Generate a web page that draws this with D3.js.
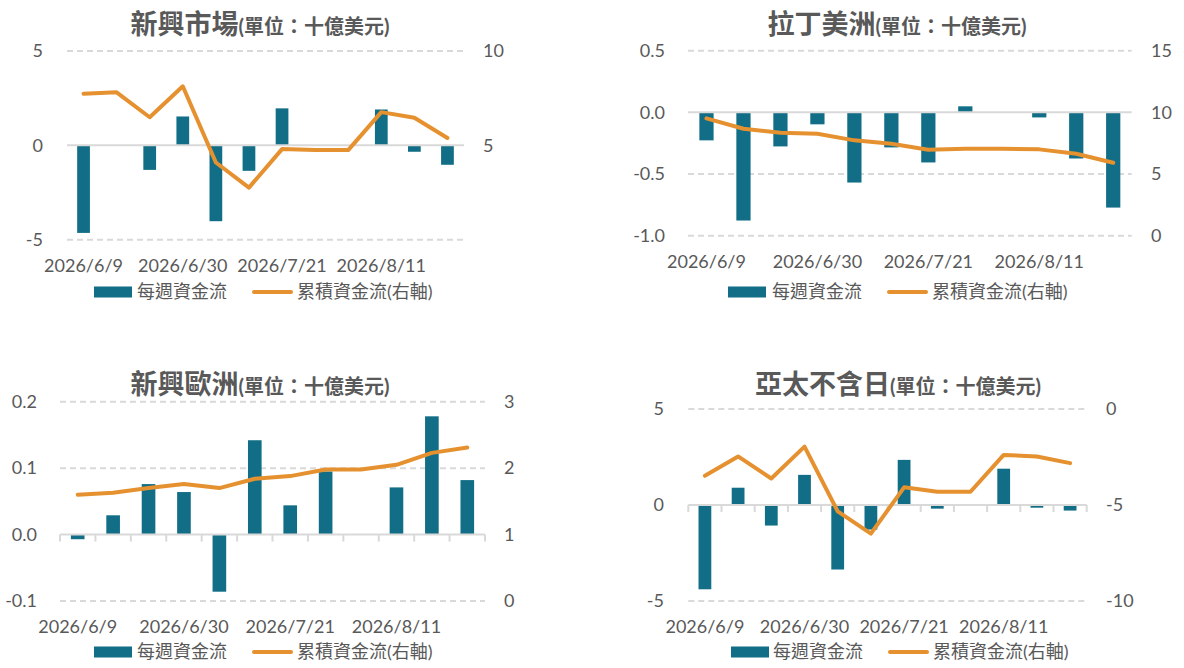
<!DOCTYPE html>
<html>
<head>
<meta charset="utf-8">
<script src="https://cdn.jsdelivr.net/npm/d3@7"></script>
<style>
body { margin: 0; background: #fff; }
text { font-family: Lato, "Noto Sans CJK TC", sans-serif; fill: #595959; }
</style>
</head>
<body>
<svg id="chart" width="1184" height="668"></svg>
<script>
// weekly dates (one bar per week), only every 3rd is labelled
var weeks = ['2026/6/9','2026/6/16','2026/6/23','2026/6/30','2026/7/7','2026/7/14',
             '2026/7/21','2026/7/28','2026/8/4','2026/8/11','2026/8/18','2026/8/25'];
var labelWeeks = ['2026/6/9','2026/6/30','2026/7/21','2026/8/11'];

// 新興市場
var emWeekly = [-4.64, 0, -1.30, 1.53, -4.02, -1.35, 1.96, 0, 0, 1.90, -0.34, -1.03];
var emCum    = [7.74, 7.81, 6.49, 8.13, 4.09, 2.76, 4.80, 4.75, 4.75, 6.76, 6.46, 5.39];
// 拉丁美洲
var latamWeekly = [-0.227, -0.877, -0.276, -0.097, -0.569, -0.284, -0.406, 0.049, 0, -0.041, -0.374, -0.772];
var latamCum    = [9.51, 8.67, 8.35, 8.27, 7.73, 7.45, 6.97, 7.05, 7.05, 7.00, 6.64, 5.91];
// 新興歐洲
var eeWeekly = [-0.007, 0.029, 0.076, 0.064, -0.086, 0.142, 0.044, 0.095, 0, 0.071, 0.178, 0.082];
var eeCum    = [1.60, 1.63, 1.70, 1.76, 1.70, 1.84, 1.88, 1.98, 1.98, 2.05, 2.23, 2.31];
// 亞太不含日
var apWeekly = [-4.39, 0.90, -1.07, 1.57, -3.36, -1.28, 2.35, -0.19, 0, 1.89, -0.14, -0.29];
var apCum    = [-3.48, -2.47, -3.62, -1.96, -5.33, -6.49, -4.08, -4.31, -4.31, -2.39, -2.47, -2.82];

var subTitle = '(單位：十億美元)';
var barName = '每週資金流';
var lineName = '累積資金流(右軸)';

var barColor = '#116e86';
var lineColor = '#e6912f';
var gridColor = '#d9d9d9';

var fmtLocale = d3.formatLocale({decimal: '.', thousands: ',', grouping: [3], currency: ['', ''], minus: '-'});

var panels = [
  { title: '新興市場', weekly: emWeekly, cum: emCum,
    x0: 67, x1: 464, yTop: 51, yBot: 239.7,
    left: [-5, 5], right: [0, 10], leftTicks: [-5, 0, 5], rightTicks: [5, 10], fmt: 'd',
    leftX: 43, rightX: 483, labelY: 266, legendY: 292, titleX: 260, titleY: 34,
    tickMarks: false, leg: [94, 137, 254, 297] },
  { title: '拉丁美洲', weekly: latamWeekly, cum: latamCum,
    x0: 688, x1: 1131.7, yTop: 50.7, yBot: 235.7,
    left: [-1, 0.5], right: [0, 15], leftTicks: [-1, -0.5, 0, 0.5], rightTicks: [0, 5, 10, 15], fmt: '.1f',
    leftX: 665, rightX: 1151, labelY: 262, legendY: 292, titleX: 897, titleY: 34,
    tickMarks: false, leg: [728, 772, 889, 932] },
  { title: '新興歐洲', weekly: eeWeekly, cum: eeCum,
    x0: 60, x1: 485, yTop: 401.7, yBot: 601,
    left: [-0.1, 0.2], right: [0, 3], leftTicks: [-0.1, 0, 0.1, 0.2], rightTicks: [0, 1, 2, 3], fmt: '.1f',
    leftX: 37, rightX: 504, labelY: 627, legendY: 652, titleX: 260, titleY: 394,
    tickMarks: true, leg: [94, 137, 254, 297] },
  { title: '亞太不含日', weekly: apWeekly, cum: apCum,
    x0: 688.3, x1: 1086.7, yTop: 409, yBot: 601,
    left: [-5, 5], right: [-10, 0], leftTicks: [-5, 0, 5], rightTicks: [-10, -5, 0], fmt: 'd',
    leftX: 664, rightX: 1106, labelY: 627, legendY: 652, titleX: 898, titleY: 394,
    tickMarks: true, leg: [731, 773, 890, 933] }
];

var svg = d3.select('#chart');

function drawPanel(p) {
  var g = svg.append('g');

  var x = d3.scaleBand().domain(weeks).range([p.x0, p.x1]).paddingInner(0.615).paddingOuter(0.3075);
  var yL = d3.scaleLinear().domain(p.left).range([p.yBot, p.yTop]);
  var yR = d3.scaleLinear().domain(p.right).range([p.yBot, p.yTop]);

  // title
  var t = g.append('text').attr('x', p.titleX).attr('y', p.titleY)
    .attr('text-anchor', 'middle').style('font-weight', 700);
  t.append('tspan').style('font-size', '27px').text(p.title);
  t.append('tspan').style('font-size', '20px').text(subTitle);

  // gridlines (dashed), zero line solid
  g.selectAll('line.grid').data(p.leftTicks.filter(function(d) { return d !== 0; }))
    .enter().append('line')
    .attr('x1', p.x0).attr('x2', p.x1)
    .attr('y1', function(d) { return yL(d); }).attr('y2', function(d) { return yL(d); })
    .attr('stroke', gridColor).attr('stroke-width', 2).attr('stroke-dasharray', '6,4');

  // bars
  g.selectAll('rect.bar').data(p.weekly).enter().append('rect')
    .attr('x', function(d, i) { return x(weeks[i]); })
    .attr('width', x.bandwidth())
    .attr('y', function(d) { return yL(Math.max(0, d)); })
    .attr('height', function(d) { return Math.abs(yL(d) - yL(0)); })
    .attr('fill', barColor);

  // zero axis line
  g.append('line').attr('x1', p.x0).attr('x2', p.x1)
    .attr('y1', yL(0)).attr('y2', yL(0))
    .attr('stroke', gridColor).attr('stroke-width', 2);

  if (p.tickMarks) {
    var edges = weeks.map(function(w) { return x(w) - x.step() * x.paddingInner() / 2; });
    edges.push(p.x1);
    g.selectAll('line.tick').data(edges).enter().append('line')
      .attr('x1', function(d) { return d; }).attr('x2', function(d) { return d; })
      .attr('y1', yL(0)).attr('y2', yL(0) + 7)
      .attr('stroke', gridColor).attr('stroke-width', 2);
  }

  // cumulative line
  var line = d3.line()
    .x(function(d, i) { return x(weeks[i]) + x.bandwidth() / 2; })
    .y(function(d) { return yR(d); });
  g.append('path').datum(p.cum).attr('d', line)
    .attr('fill', 'none').attr('stroke', lineColor).attr('stroke-width', 4)
    .attr('stroke-linejoin', 'round').attr('stroke-linecap', 'round');

  // axes labels
  var la = g.append('g').attr('transform', 'translate(' + p.leftX + ',0)')
    .call(d3.axisLeft(yL).tickValues(p.leftTicks).tickFormat(fmtLocale.format(p.fmt))
      .tickSize(0).tickPadding(0));
  var ra = g.append('g').attr('transform', 'translate(' + p.rightX + ',0)')
    .call(d3.axisRight(yR).tickValues(p.rightTicks).tickFormat(fmtLocale.format('d'))
      .tickSize(0).tickPadding(0));
  var xa = g.append('g').attr('transform', 'translate(0,' + p.labelY + ')')
    .call(d3.axisBottom(x).tickValues(labelWeeks).tickSize(0).tickPadding(0));
  [la, ra, xa].forEach(function(a) {
    a.select('.domain').remove();
    a.selectAll('text').attr('fill', '#595959').style('font-size', '18px')
      .style('font-family', 'Lato, sans-serif');
  });
  xa.selectAll('text').attr('y', 0).attr('dy', '0.35em');

  // legend
  var ly = p.legendY;
  g.append('rect').attr('x', p.leg[0]).attr('y', ly - 5.5).attr('width', 38).attr('height', 11)
    .attr('fill', barColor);
  g.append('text').attr('x', p.leg[1]).attr('y', ly).attr('dy', '0.35em')
    .style('font-size', '18px').text(barName);
  g.append('line').attr('x1', p.leg[2]).attr('x2', p.leg[2] + 37)
    .attr('y1', ly).attr('y2', ly)
    .attr('stroke', lineColor).attr('stroke-width', 4).attr('stroke-linecap', 'round');
  g.append('text').attr('x', p.leg[3]).attr('y', ly).attr('dy', '0.35em')
    .style('font-size', '18px').text(lineName);
}

panels.forEach(drawPanel);
</script>
</body>
</html>
